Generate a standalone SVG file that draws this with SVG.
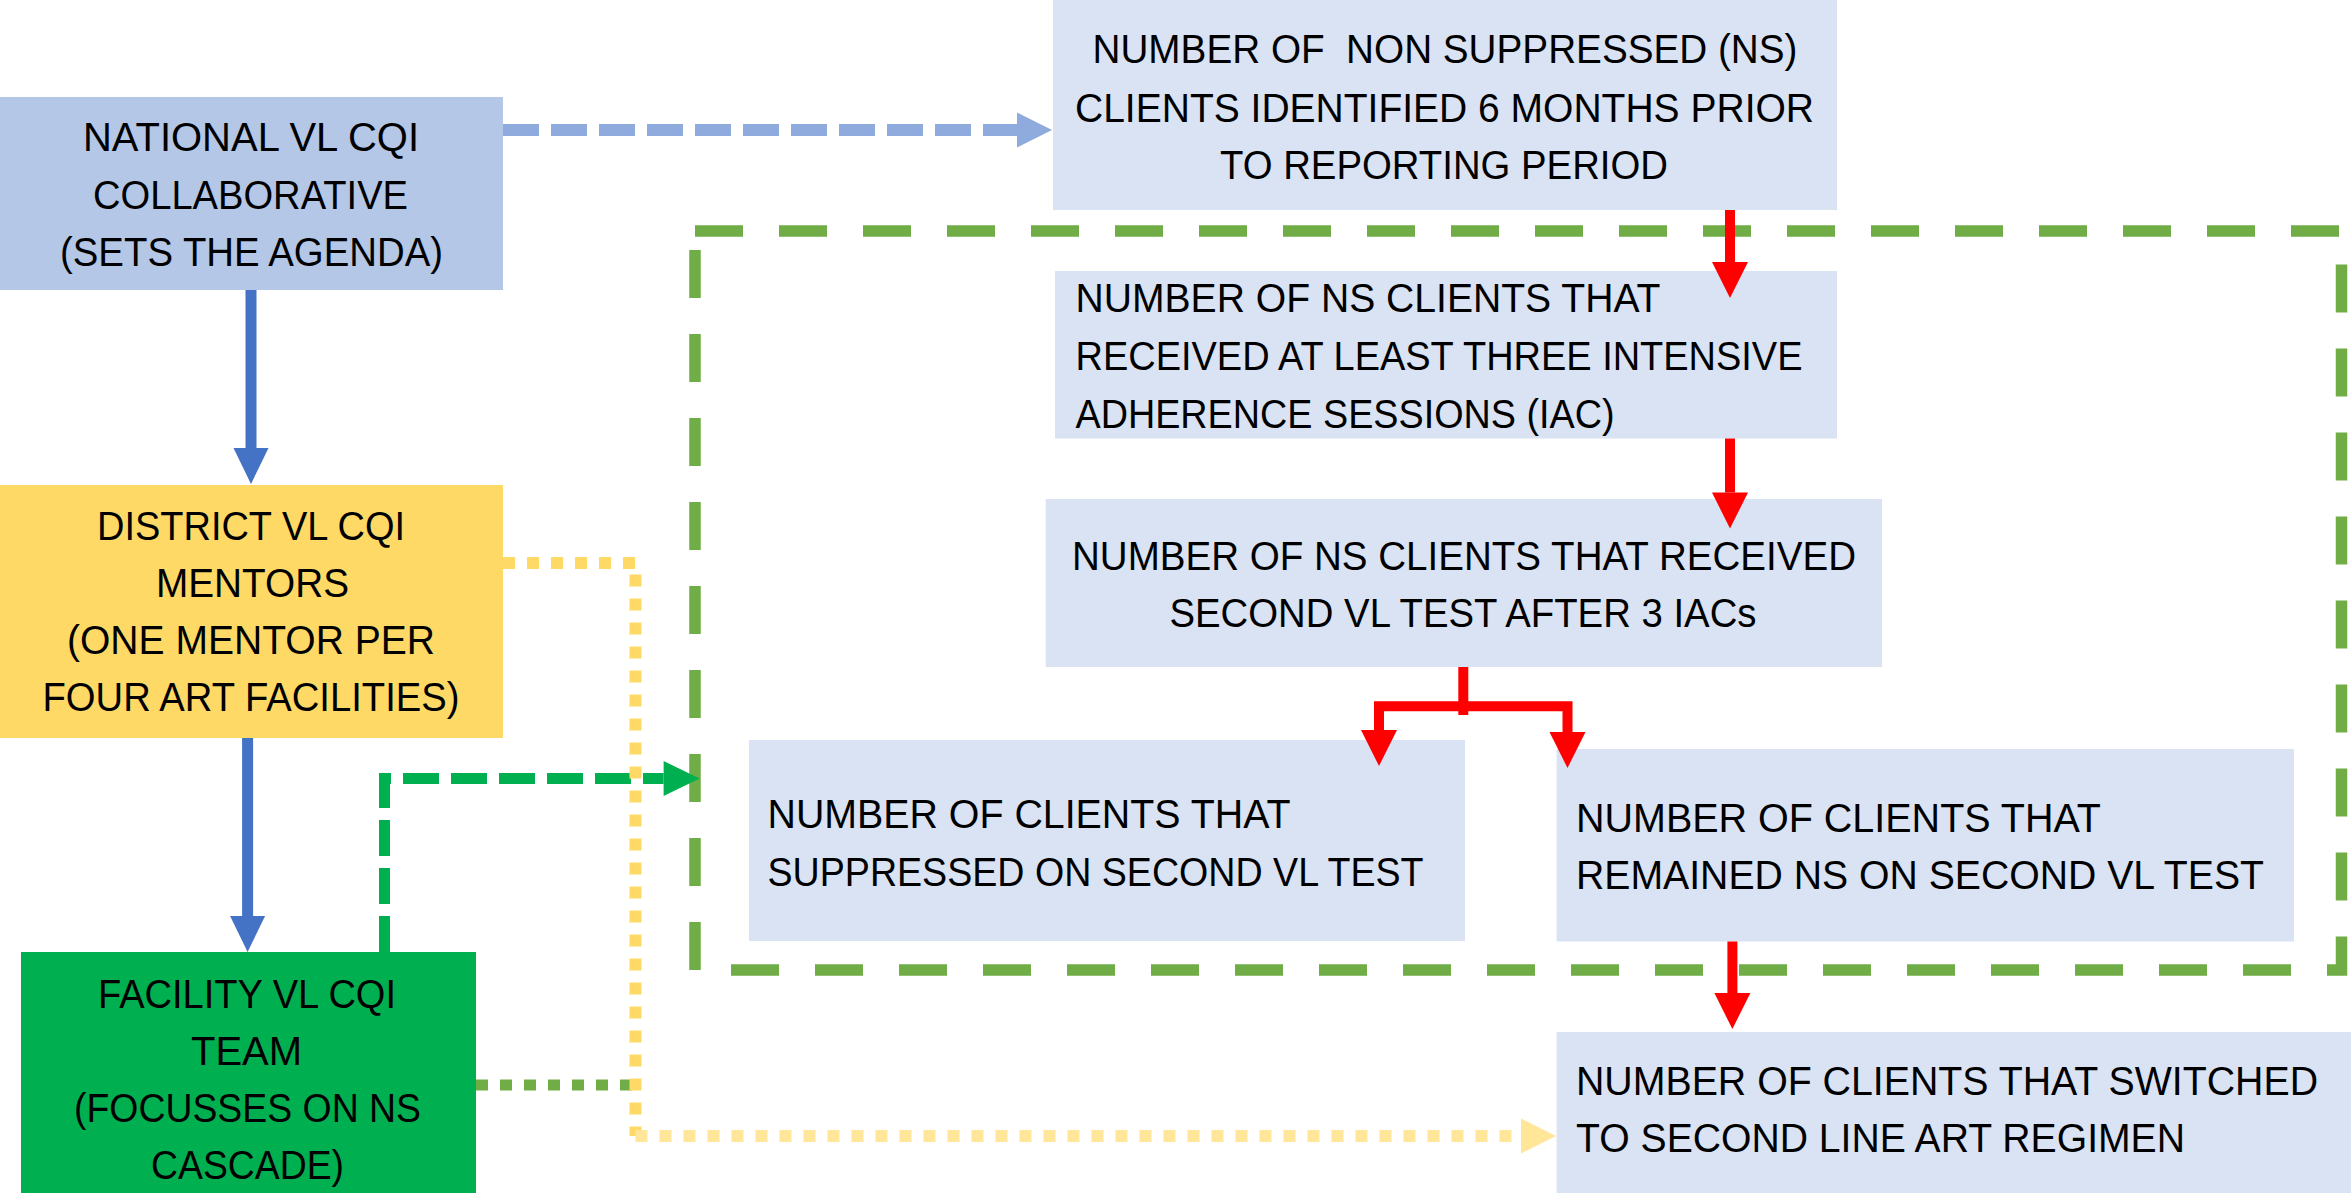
<svg xmlns="http://www.w3.org/2000/svg" width="2351" height="1193" viewBox="0 0 2351 1193">
<style>
text{font-family:"Liberation Sans",Arial,sans-serif;font-size:40px;fill:#000;}
.c{text-anchor:middle;}
.lite{fill:#DAE3F3;}
.red{fill:none;stroke:#FF0000;stroke-width:10;}
.blue{fill:none;stroke:#4472C4;stroke-width:11;}
</style>
<defs>
<marker id="ar" markerUnits="userSpaceOnUse" markerWidth="36" markerHeight="36" refX="0" refY="18" orient="auto" overflow="visible"><path d="M0,0 L36,18 L0,36 z" fill="#FF0000"/></marker>
<marker id="ab" markerUnits="userSpaceOnUse" markerWidth="36" markerHeight="36" refX="0" refY="17.5" orient="auto" overflow="visible"><path d="M0,0 L36,17.5 L0,35 z" fill="#4472C4"/></marker>
<marker id="alb" markerUnits="userSpaceOnUse" markerWidth="36" markerHeight="36" refX="0" refY="17.5" orient="auto" overflow="visible"><path d="M0,0 L35,17.5 L0,35 z" fill="#8FAADC"/></marker>
<marker id="ag" markerUnits="userSpaceOnUse" markerWidth="36" markerHeight="36" refX="0" refY="17.5" orient="auto" overflow="visible"><path d="M0,0 L36,17.5 L0,35 z" fill="#00B050"/></marker>
<marker id="ay" markerUnits="userSpaceOnUse" markerWidth="36" markerHeight="36" refX="0" refY="17.5" orient="auto" overflow="visible"><path d="M0,0 L35,17.5 L0,35 z" fill="#FFE699"/></marker>
</defs>

<g id="group-box">
<path d="M695,231 H2341.5 V970 H695 Z" fill="none" stroke="#70AD47" stroke-width="11.5" stroke-dasharray="48 36"/>
</g>

<g id="national">
<rect x="0" y="97" width="503" height="193" fill="#B4C7E7"/>
<text class="c" x="251" y="151" textLength="336" lengthAdjust="spacingAndGlyphs">NATIONAL VL CQI</text>
<text class="c" x="250.5" y="208.6" textLength="315" lengthAdjust="spacingAndGlyphs">COLLABORATIVE</text>
<text class="c" x="251.5" y="266" textLength="383" lengthAdjust="spacingAndGlyphs">(SETS THE AGENDA)</text>
</g>

<g id="district">
<rect x="0" y="485" width="503" height="253" fill="#FFD966"/>
<text class="c" x="251" y="540" textLength="308" lengthAdjust="spacingAndGlyphs">DISTRICT VL CQI</text>
<text class="c" x="252.5" y="597" textLength="193" lengthAdjust="spacingAndGlyphs">MENTORS</text>
<text class="c" x="251" y="654" textLength="368" lengthAdjust="spacingAndGlyphs">(ONE MENTOR PER</text>
<text class="c" x="251" y="711" textLength="417" lengthAdjust="spacingAndGlyphs">FOUR ART FACILITIES)</text>
</g>

<g id="facility">
<rect x="21" y="952" width="455" height="241" fill="#00B050"/>
<text class="c" x="247" y="1008" textLength="298" lengthAdjust="spacingAndGlyphs">FACILITY VL CQI</text>
<text class="c" x="246.5" y="1065" textLength="111" lengthAdjust="spacingAndGlyphs">TEAM</text>
<text class="c" x="247.5" y="1122" textLength="347" lengthAdjust="spacingAndGlyphs">(FOCUSSES ON NS</text>
<text class="c" x="247.5" y="1179" textLength="193" lengthAdjust="spacingAndGlyphs">CASCADE)</text>
</g>

<g id="ns-identified">
<rect class="lite" x="1053" y="0" width="784" height="210"/>
<text class="c" x="1445" y="63" textLength="705" lengthAdjust="spacingAndGlyphs" xml:space="preserve">NUMBER OF  NON SUPPRESSED (NS)</text>
<text class="c" x="1444.5" y="122" textLength="739" lengthAdjust="spacingAndGlyphs">CLIENTS IDENTIFIED 6 MONTHS PRIOR</text>
<text class="c" x="1444" y="179" textLength="448" lengthAdjust="spacingAndGlyphs">TO REPORTING PERIOD</text>
</g>

<g id="ns-iac">
<rect class="lite" x="1055" y="271" width="782" height="167.5"/>
<text x="1075.5" y="312" textLength="585" lengthAdjust="spacingAndGlyphs">NUMBER OF NS CLIENTS THAT</text>
<text x="1075.5" y="370" textLength="727" lengthAdjust="spacingAndGlyphs">RECEIVED AT LEAST THREE INTENSIVE</text>
<text x="1075.5" y="427.5" textLength="539" lengthAdjust="spacingAndGlyphs">ADHERENCE SESSIONS (IAC)</text>
</g>

<g id="ns-second-test">
<rect class="lite" x="1045.7" y="499" width="836.3" height="168"/>
<text class="c" x="1464" y="570" textLength="784" lengthAdjust="spacingAndGlyphs">NUMBER OF NS CLIENTS THAT RECEIVED</text>
<text class="c" x="1463" y="627" textLength="587" lengthAdjust="spacingAndGlyphs">SECOND VL TEST AFTER 3 IACs</text>
</g>

<g id="suppressed">
<rect class="lite" x="749" y="740" width="716" height="201"/>
<text x="767.5" y="828" textLength="523" lengthAdjust="spacingAndGlyphs">NUMBER OF CLIENTS THAT</text>
<text x="767.5" y="885.5" textLength="656" lengthAdjust="spacingAndGlyphs">SUPPRESSED ON SECOND VL TEST</text>
</g>

<g id="remained-ns">
<rect class="lite" x="1556.6" y="749" width="737.4" height="192.5"/>
<text x="1576" y="831.5" textLength="525" lengthAdjust="spacingAndGlyphs">NUMBER OF CLIENTS THAT</text>
<text x="1576" y="889" textLength="688" lengthAdjust="spacingAndGlyphs">REMAINED NS ON SECOND VL TEST</text>
</g>

<g id="switched">
<rect class="lite" x="1556.6" y="1032" width="794.4" height="161"/>
<text x="1576" y="1095" textLength="742" lengthAdjust="spacingAndGlyphs">NUMBER OF CLIENTS THAT SWITCHED</text>
<text x="1576" y="1152" textLength="609" lengthAdjust="spacingAndGlyphs">TO SECOND LINE ART REGIMEN</text>
</g>

<g id="connectors">
<path d="M503,130 H1017" fill="none" stroke="#8FAADC" stroke-width="12" stroke-dasharray="36 12" marker-end="url(#alb)"/>
<path class="blue" d="M251,290 L251,448" marker-end="url(#ab)"/>
<path class="blue" d="M247.6,738 V916" marker-end="url(#ab)"/>
<path d="M384.5,952 V778.5 H663.6" fill="none" stroke="#00B050" stroke-width="11" stroke-dasharray="36 12" marker-end="url(#ag)"/>
<path d="M476,1085 H635" fill="none" stroke="#70AD47" stroke-width="11" stroke-dasharray="12 12"/>
<path d="M503,563 H635.5 V1136" fill="none" stroke="#FFD966" stroke-width="12" stroke-dasharray="12 12"/>
<path d="M635.5,1136 H1521" fill="none" stroke="#FFE699" stroke-width="12" stroke-dasharray="12 12" marker-end="url(#ay)"/>
<path class="red" d="M1730,210 V262" marker-end="url(#ar)"/>
<path class="red" d="M1730,438.5 V492.5" marker-end="url(#ar)"/>
<path class="red" stroke-width="12" d="M1463.3,667 V715"/>
<path class="red" stroke-width="11.5" d="M1463.3,706.2 H1379 V730" marker-end="url(#ar)"/>
<path class="red" stroke-width="11.5" d="M1463.3,706.2 H1567.5 V732" marker-end="url(#ar)"/>
<path class="red" d="M1732.4,941.5 V993" marker-end="url(#ar)"/>
</g>
</svg>
